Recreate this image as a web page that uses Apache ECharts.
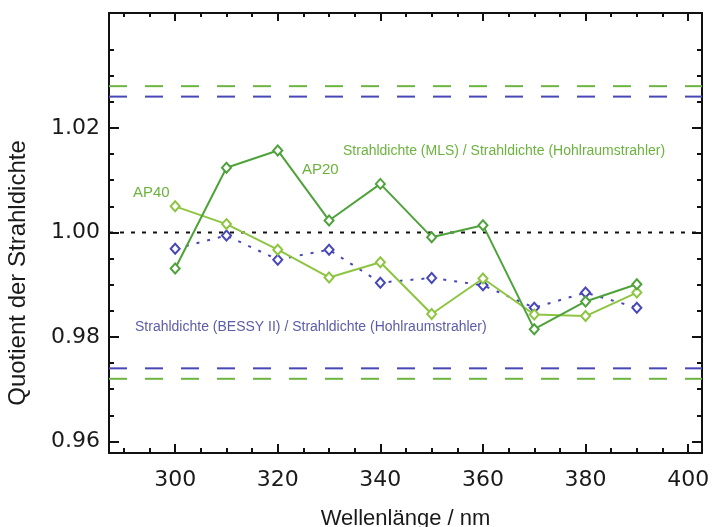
<!DOCTYPE html>
<html style="height: 100%">
<head>
<meta charset="utf-8">
<script src="https://cdn.jsdelivr.net/npm/echarts@6/dist/echarts.min.js"></script>
</head>
<body style="height: 100%; margin: 0; background: #fff">
<div id="container" style="width: 712px; height: 527px"></div>
<script type="text/javascript">
// Wellenlänge / nm
var wavelengths = [300, 310, 320, 330, 340, 350, 360, 370, 380, 390];
// Strahldichte (MLS) / Strahldichte (Hohlraumstrahler)
var ap20 = [0.9931, 1.0124, 1.0157, 1.0023, 1.0093, 0.9991, 1.0014, 0.9815, 0.9868, 0.9901];
var ap40 = [1.0050, 1.0016, 0.9967, 0.9914, 0.9943, 0.9844, 0.9912, 0.9843, 0.9840, 0.9885];
// Strahldichte (BESSY II) / Strahldichte (Hohlraumstrahler)
var bessy = [0.9969, 0.9994, 0.9948, 0.9967, 0.9904, 0.9913, 0.9899, 0.9856, 0.9885, 0.9856];
// Unsicherheitsgrenzen
var mlsLimits = [1.028, 0.972];
var bessyLimits = [1.026, 0.974];
var reference = 1.0;

var xMajor = [300, 320, 340, 360, 380, 400];
var xMinor = [290, 295, 305, 310, 315, 325, 330, 335, 345, 350, 355, 365, 370, 375, 385, 390, 395];
var yMajor = [0.96, 0.98, 1.00, 1.02];
var yMinor = [0.965, 0.97, 0.975, 0.985, 0.99, 0.995, 1.005, 1.01, 1.015, 1.025, 1.03, 1.035];

var xRange = [287.1, 402.7];
var yRange = [0.9578, 1.042];

var cGreenDark = '#4fa23b';
var cGreenLight = '#8dc541';
var cBlue = '#4747b8';
var cGreenDash = '#6db33f';

function pairs(ys) {
    var out = [];
    for (var i = 0; i < wavelengths.length; i++) out.push([wavelengths[i], ys[i]]);
    return out;
}

function xAxisDef(pos, ticks, len, withLine, withLabel) {
    return {
        type: 'value', position: pos, min: xRange[0], max: xRange[1],
        splitLine: {show: false},
        axisLine: {show: withLine, lineStyle: {color: '#111', width: 2}},
        axisTick: {show: true, inside: true, length: len, customValues: ticks,
                   lineStyle: {color: '#111', width: 2}},
        axisLabel: withLabel ? {show: true, customValues: ticks, margin: 16,
                   fontFamily: 'DejaVu Sans', fontSize: 22, color: '#1a1a1a'} : {show: false},
        name: withLabel ? 'Wellenlänge / nm' : '',
        nameLocation: 'middle', nameGap: 55,
        nameTextStyle: {fontFamily: 'Liberation Sans', fontSize: 22, color: '#1a1a1a'}
    };
}

function yAxisDef(pos, ticks, len, withLine, withLabel) {
    return {
        type: 'value', position: pos, min: yRange[0], max: yRange[1],
        splitLine: {show: false},
        axisLine: {show: withLine, lineStyle: {color: '#111', width: 2}},
        axisTick: {show: true, inside: true, length: len, customValues: ticks,
                   lineStyle: {color: '#111', width: 2}},
        axisLabel: withLabel ? {show: true, customValues: ticks, margin: 9,
                   formatter: function (v) { return v.toFixed(2); },
                   fontFamily: 'DejaVu Sans', fontSize: 22, color: '#1a1a1a'} : {show: false}
    };
}

// horizontal line across the whole x range
function hLine(v, color, dash, z) {
    return {
        type: 'line', data: [[xRange[0], v], [xRange[1], v]], symbol: 'none', z: z,
        silent: true, lineStyle: {color: color, type: dash, width: 2}
    };
}

var dom = document.getElementById('container');
var myChart = echarts.init(dom, null, {renderer: 'canvas'});

var option = {
    animation: false,
    grid: {left: 109, top: 13, right: 10, bottom: 74, outerBoundsMode: 'none', containLabel: false},
    xAxis: [
        xAxisDef('bottom', xMajor, 9, true, true),
        xAxisDef('bottom', xMinor, 5, false, false),
        xAxisDef('top', xMajor, 8, true, false),
        xAxisDef('top', xMinor, 4, false, false)
    ],
    yAxis: [
        yAxisDef('left', yMajor, 10, true, true),
        yAxisDef('left', yMinor, 5, false, false),
        yAxisDef('right', yMajor, 10, true, false),
        yAxisDef('right', yMinor, 5, false, false)
    ],
    graphic: [
        // y axis title sits lower than the axis centre in the original
        {type: 'text', x: 18, y: 273, rotation: Math.PI / 2,
            style: {text: 'Quotient der Strahldichte', fill: '#1a1a1a', font: '24px "Liberation Sans"',
                    align: 'center', verticalAlign: 'middle'}},
        {type: 'text', left: 343, top: 144, style: {text: 'Strahldichte (MLS) / Strahldichte (Hohlraumstrahler)',
            fill: '#6cb33e', font: '14px "Liberation Sans"'}},
        {type: 'text', left: 302, top: 162, style: {text: 'AP20', fill: '#6cb33e', font: '15px "Liberation Sans"'}},
        {type: 'text', left: 133, top: 185, style: {text: 'AP40', fill: '#6cb33e', font: '15px "Liberation Sans"'}},
        {type: 'text', left: 135, top: 320, style: {text: 'Strahldichte (BESSY II) / Strahldichte (Hohlraumstrahler)',
            fill: '#5c5ca8', font: '14px "Liberation Sans"'}}
    ],
    series: [
        hLine(reference, '#111', [4, 7], 1),
        hLine(mlsLimits[0], cGreenDash, [18, 18], 1),
        hLine(bessyLimits[0], cBlue, [18, 18], 1),
        hLine(bessyLimits[1], cBlue, [18, 18], 1),
        hLine(mlsLimits[1], cGreenDash, [18, 18], 1),
        {
            name: 'BESSY II', type: 'line', data: pairs(bessy), z: 3,
            symbol: 'emptyDiamond', symbolSize: [9, 10],
            lineStyle: {color: cBlue, width: 2, type: [3, 8]},
            itemStyle: {color: cBlue, borderWidth: 2}
        },
        {
            name: 'AP40', type: 'line', data: pairs(ap40), z: 4,
            symbol: 'emptyDiamond', symbolSize: [9, 10],
            lineStyle: {color: cGreenLight, width: 2},
            itemStyle: {color: cGreenLight, borderWidth: 1.5}
        },
        {
            name: 'AP20', type: 'line', data: pairs(ap20), z: 5,
            symbol: 'emptyDiamond', symbolSize: [9, 10],
            lineStyle: {color: cGreenDark, width: 2},
            itemStyle: {color: cGreenDark, borderWidth: 1.5}
        }
    ]
};
myChart.setOption(option);
</script>
</body>
</html>
